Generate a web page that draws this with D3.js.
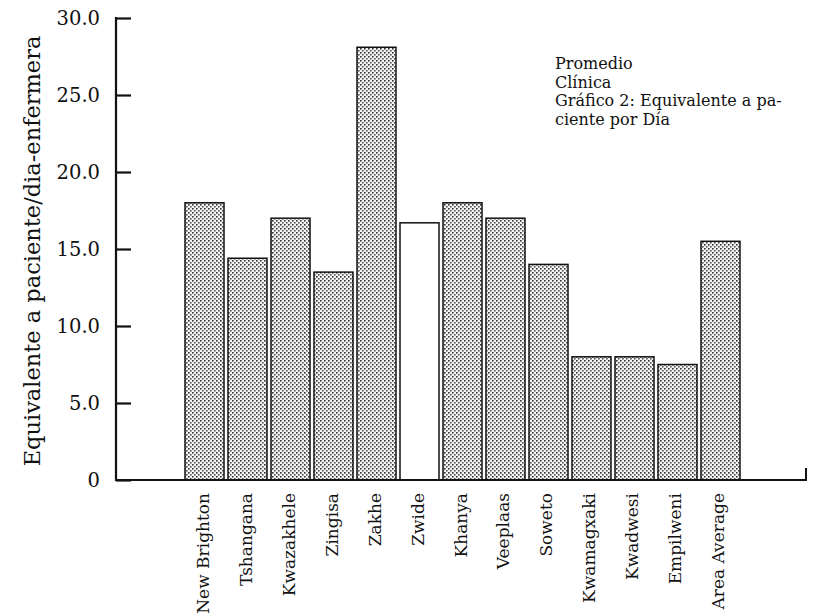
<!DOCTYPE html>
<html>
<head>
<meta charset="utf-8">
<script src="https://cdn.jsdelivr.net/npm/d3@7"></script>
<style>
  body { margin: 0; background: #fff; }
  text { font-family: "DejaVu Serif", "Liberation Serif", serif; fill: #111; }
</style>
</head>
<body>
<div id="chart"></div>
<script>
const clinics = ["New Brighton", "Tshangana", "Kwazakhele", "Zingisa", "Zakhe", "Zwide",
  "Khanya", "Veeplaas", "Soweto", "Kwamagxaki", "Kwadwesi", "Empilweni", "Area Average"];
const values = [18.0, 14.4, 17.0, 13.5, 28.1, 16.7, 18.0, 17.0, 14.0, 8.0, 8.0, 7.5, 15.5];
const highlighted = ["Zwide"];
const yTicks = [0, 5, 10, 15, 20, 25, 30];
const legendLines = ["Promedio", "Clínica", "Gráfico 2: Equivalente a pa-", "ciente por Día"];

(function() {
  const width = 814;
  const height = 614;
  const axisX = 116;
  const axisBottom = 480;
  const axisTop = 18;

  const svg = d3.select("#chart")
    .append("svg")
    .attr("width", width)
    .attr("height", height);

  // halftone fill
  const pat = svg.append("defs").append("pattern")
    .attr("id", "dots")
    .attr("width", 4)
    .attr("height", 4)
    .attr("patternUnits", "userSpaceOnUse");
  pat.append("rect").attr("width", 4).attr("height", 4).attr("fill", "#f4f4f4");
  pat.append("rect").attr("x", 0).attr("y", 0).attr("width", 1.6).attr("height", 1.6).attr("fill", "#333");
  pat.append("rect").attr("x", 2).attr("y", 2).attr("width", 1.6).attr("height", 1.6).attr("fill", "#555");

  const x = d3.scaleBand()
    .domain(clinics)
    .range([185, 740])
    .paddingInner(0.093)
    .paddingOuter(0);

  const y = d3.scaleLinear()
    .domain([0, 30])
    .range([axisBottom, axisTop]);

  // Bars
  svg.selectAll("rect.bar")
    .data(clinics)
    .join("rect")
    .attr("class", "bar")
    .attr("x", d => x(d))
    .attr("y", (d, i) => y(values[i]))
    .attr("width", x.bandwidth())
    .attr("height", (d, i) => axisBottom - y(values[i]))
    .attr("fill", d => highlighted.includes(d) ? "#fff" : "url(#dots)")
    .attr("stroke", "#111")
    .attr("stroke-width", 1.5);

  // Y axis
  const yAxis = svg.append("g")
    .attr("transform", `translate(${axisX},0)`)
    .call(d3.axisRight(y).tickValues(yTicks).tickSize(15).tickFormat(""));
  yAxis.select(".domain").remove();
  yAxis.selectAll(".tick line").attr("stroke", "#111").attr("stroke-width", 2.2);

  svg.append("line")
    .attr("x1", axisX).attr("x2", axisX)
    .attr("y1", axisTop - 1).attr("y2", axisBottom + 1)
    .attr("stroke", "#111").attr("stroke-width", 2.2);

  svg.selectAll(".ylab")
    .data(yTicks)
    .join("text")
    .attr("class", "ylab")
    .attr("x", 100)
    .attr("y", d => y(d))
    .attr("dy", "0.36em")
    .attr("text-anchor", "end")
    .attr("font-size", "19.5px")
    .text(d => d === 0 ? "0" : d.toFixed(1));

  // X axis line with small end tick
  svg.append("line")
    .attr("x1", axisX).attr("x2", 806)
    .attr("y1", axisBottom).attr("y2", axisBottom)
    .attr("stroke", "#111").attr("stroke-width", 2);
  svg.append("line")
    .attr("x1", 806).attr("x2", 806)
    .attr("y1", axisBottom - 12).attr("y2", axisBottom + 1)
    .attr("stroke", "#111").attr("stroke-width", 2);

  // Category labels
  svg.selectAll(".xlab")
    .data(clinics)
    .join("text")
    .attr("class", "xlab")
    .attr("transform", d => `translate(${x(d) + x.bandwidth() / 2 + 4},493) rotate(-90)`)
    .attr("text-anchor", "end")
    .attr("font-size", "17px")
    .text(d => d);

  // Y axis title
  svg.append("text")
    .attr("transform", `translate(40,${(axisTop + axisBottom) / 2 + 2}) rotate(-90)`)
    .attr("text-anchor", "middle")
    .attr("font-size", "22.5px")
    .text("Equivalente a paciente/dia-enfermera");

  // Legend note
  svg.selectAll(".note")
    .data(legendLines)
    .join("text")
    .attr("class", "note")
    .attr("x", 555)
    .attr("y", (d, i) => 69 + i * 18.5)
    .attr("font-size", "16px")
    .text(d => d);
})();
</script>
</body>
</html>
